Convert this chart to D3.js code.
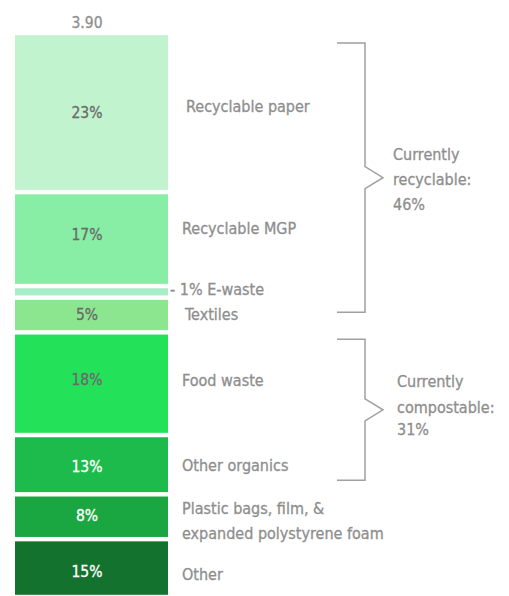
<!DOCTYPE html>
<html>
<head>
<meta charset="utf-8">
<script src="https://cdn.jsdelivr.net/npm/d3@7"></script>
<style>
  html, body { margin: 0; padding: 0; background: #ffffff; }
  svg { display: block; }
  text { font-family: "DejaVu Sans Condensed", "DejaVu Sans", sans-serif; }
</style>
</head>
<body>
<svg id="chart" width="509" height="596"></svg>
<script>
// ---- data ----
const categories = ["Recyclable paper", "Recyclable MGP", "E-waste", "Textiles",
  "Food waste", "Other organics", "Plastic bags, film, & expanded polystyrene foam", "Other"];
const percentLabels = ["23%", "17%", "1%", "5%", "18%", "13%", "8%", "15%"];
// bar lengths, in the unit of the 3.90 total
const barValues = [1.10, 0.65, 0.08, 0.24, 0.71, 0.41, 0.31, 0.40];
const totalLabel = "3.90";
const labelLines = [["Recyclable paper"], ["Recyclable MGP"], ["- 1% E-waste"], ["Textiles"],
  ["Food waste"], ["Other organics"], ["Plastic bags, film, &", "expanded polystyrene foam"], ["Other"]];
const showPercentInBar = [true, true, false, true, true, true, true, true];
const groupNames = [["Currently", "recyclable:", "46%"], ["Currently", "compostable:", "31%"]];
const groupFrom = [0, 4];
const groupTo = [3, 5];

// ---- styles / layout ----
const barColors = ["#c2f3cf", "#88eea5", "#a9ecc8", "#8ce68f", "#23e25a", "#1dbb4b", "#1aa641", "#13732e"];
const pctColors = ["#6a6a6a", "#6a6a6a", "#6a6a6a", "#6a6a6a", "#6a6a6a", "#ffffff", "#ffffff", "#ffffff"];
const labelX = [186, 182, 170, 185, 182, 182, 182, 182];
const labelBaseNudge = [-0.5, -5.5, 3.5, 5, 2, 6.5, -3, 12];
const pctCenterNudge = [0, -5, 0, -1, -4, 1.5, -1, 3.5];
const groupTextX = [393, 397];
const groupInsetTop = [10, 7];
const groupInsetBottom = [20, 14];
const groupLineDy = [[-18, 7, 32], [-23, 3, 25]];

const textGray = "#8e8e8e";
const lineGray = "#a0a0a0";
const pad = 2.2;
const weightStroke = 0.3;

const svg = d3.select("#chart");

const total = d3.sum(barValues);
const y = d3.scaleLinear().domain([0, total]).range([33, 597]);
const x = d3.scaleBand().domain(["total"]).range([15, 168]).padding(0);

const starts = [];
barValues.reduce((acc, v, i) => { starts[i] = acc; return acc + v; }, 0);
const rows = categories.map((c, i) => ({
  cat: c, v: barValues[i], s: starts[i], e: starts[i] + barValues[i], i
}));

const mid = d => (y(d.s) + y(d.e)) / 2;
const cx = 87;

// bars
svg.append("g").selectAll("rect").data(rows).join("rect")
  .attr("x", x("total"))
  .attr("width", x.bandwidth())
  .attr("y", d => y(d.s) + pad)
  .attr("height", d => y(d.e) - y(d.s) - 2 * pad)
  .attr("fill", d => barColors[d.i]);

// total label
svg.append("text")
  .attr("x", cx).attr("y", 28)
  .attr("text-anchor", "middle")
  .attr("font-size", 15.5)
  .attr("fill", textGray)
  .attr("stroke", textGray).attr("stroke-width", weightStroke)
  .text(totalLabel);

// percent labels in bars
svg.append("g").selectAll("text").data(rows.filter(d => showPercentInBar[d.i])).join("text")
  .attr("x", cx)
  .attr("y", d => mid(d) + pctCenterNudge[d.i] + 5.5)
  .attr("text-anchor", "middle")
  .attr("font-size", 15.5)
  .attr("fill", d => pctColors[d.i])
  .attr("stroke", d => pctColors[d.i]).attr("stroke-width", weightStroke)
  .text(d => percentLabels[d.i]);

// category labels
const lab = svg.append("g").selectAll("text").data(rows).join("text")
  .attr("x", d => labelX[d.i])
  .attr("y", d => mid(d) + labelBaseNudge[d.i])
  .attr("font-size", 16)
  .attr("fill", textGray)
  .attr("stroke", textGray).attr("stroke-width", weightStroke);
lab.selectAll("tspan").data(d => labelLines[d.i].map((t, k) => ({ t, k, x: labelX[d.i] }))).join("tspan")
  .attr("x", d => d.x)
  .attr("dy", d => d.k === 0 ? 0 : 25)
  .text(d => d.t);

// brackets
groupNames.forEach((names, g) => {
  const y0 = y(starts[groupFrom[g]]) + groupInsetTop[g];
  const y1 = y(starts[groupTo[g]] + barValues[groupTo[g]]) - groupInsetBottom[g];
  const apex = (y0 + y1) / 2;
  const bx = 365, armX = 337, tipX = 383, half = 11;
  const p = d3.path();
  p.moveTo(armX, y0);
  p.lineTo(bx, y0);
  p.lineTo(bx, apex - half);
  p.lineTo(tipX, apex);
  p.lineTo(bx, apex + half);
  p.lineTo(bx, y1);
  p.lineTo(armX, y1);
  svg.append("path")
    .attr("d", p.toString())
    .attr("fill", "none")
    .attr("stroke", lineGray)
    .attr("stroke-width", 1.5);
  svg.append("g").selectAll("text").data(names).join("text")
    .attr("x", groupTextX[g])
    .attr("y", (t, k) => apex + groupLineDy[g][k])
    .attr("font-size", 16)
    .attr("fill", textGray)
    .attr("stroke", textGray).attr("stroke-width", weightStroke)
    .text(t => t);
});
</script>
</body>
</html>
